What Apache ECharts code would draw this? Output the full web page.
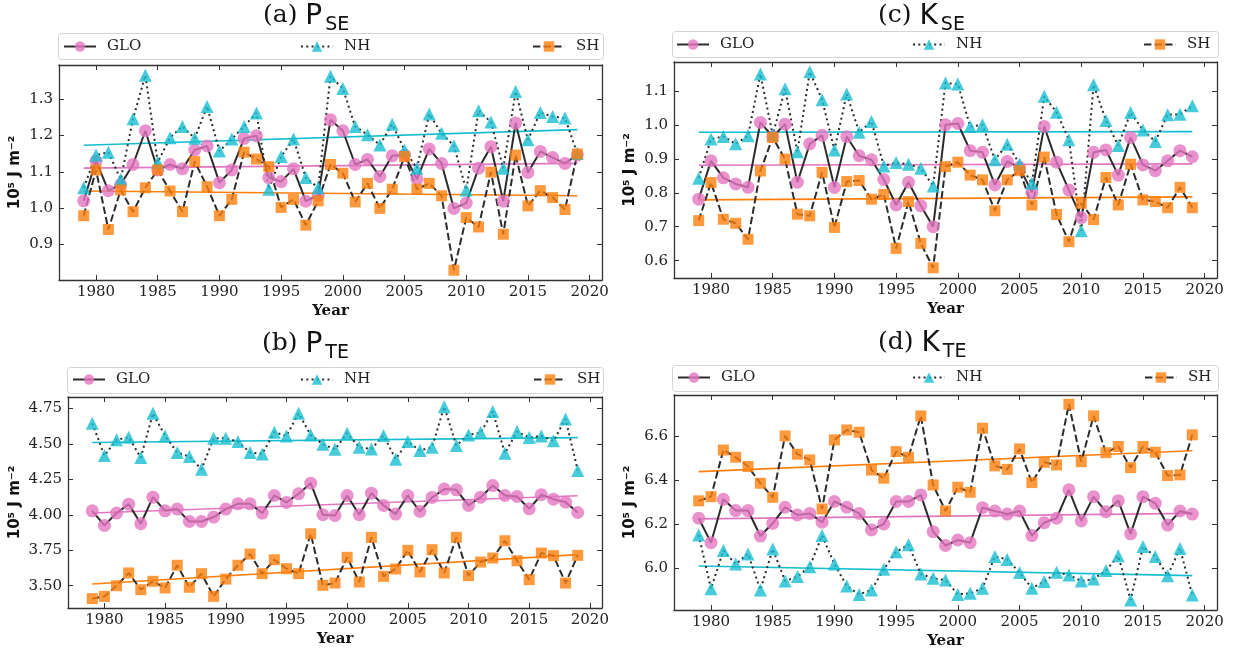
<!DOCTYPE html>
<html>
<head>
<meta charset="utf-8">
<script src="https://cdn.jsdelivr.net/npm/echarts@6/dist/echarts.min.js"></script>
<style>
  html, body { margin: 0; padding: 0; background: #fff; }
  #main { width: 1233px; height: 655px; }
</style>
</head>
<body>
<div id="main"></div>
<script>
// years on the x axis
const years = [1979, 1980, 1981, 1982, 1983, 1984, 1985, 1986, 1987, 1988,
  1989, 1990, 1991, 1992, 1993, 1994, 1995, 1996, 1997, 1998,
  1999, 2000, 2001, 2002, 2003, 2004, 2005, 2006, 2007, 2008,
  2009, 2010, 2011, 2012, 2013, 2014, 2015, 2016, 2017, 2018, 2019];
const xTicks = [1980, 1985, 1990, 1995, 2000, 2005, 2010, 2015, 2020];

// (a) P_SE
const pseGlo = [1.02, 1.13, 1.048, 1.065, 1.12, 1.213, 1.105, 1.12, 1.108, 1.16,
  1.171, 1.07, 1.105, 1.192, 1.199, 1.084, 1.073, 1.108, 1.019, 1.035,
  1.243, 1.213, 1.12, 1.134, 1.087, 1.144, 1.146, 1.08, 1.163, 1.123,
  0.999, 1.014, 1.11, 1.169, 1.019, 1.234, 1.098, 1.156, 1.139, 1.123, 1.146];
const pseNh = [1.056, 1.146, 1.154, 1.079, 1.246, 1.366, 1.126, 1.194, 1.225, 1.192,
  1.28, 1.157, 1.19, 1.225, 1.262, 1.052, 1.142, 1.19, 1.084, 1.056,
  1.363, 1.329, 1.225, 1.202, 1.174, 1.231, 1.16, 1.11, 1.259, 1.206,
  1.172, 1.05, 1.268, 1.237, 1.11, 1.321, 1.188, 1.263, 1.252, 1.248, 1.15];
const pseSh = [0.979, 1.105, 0.941, 1.05, 0.99, 1.056, 1.105, 1.047, 0.99, 1.128,
  1.059, 0.979, 1.024, 1.154, 1.135, 1.114, 1.002, 1.024, 0.953, 1.02,
  1.12, 1.096, 1.017, 1.068, 0.999, 1.052, 1.142, 1.052, 1.068, 1.034,
  0.829, 0.974, 0.948, 1.099, 0.928, 1.146, 1.006, 1.048, 1.029, 0.996, 1.149];
const pseTrend = [[1.11, 1.123], [1.173, 1.216], [1.047, 1.034]]; // GLO, NH, SH at 1979 / 2019
const pseTicks = [0.9, 1.0, 1.1, 1.2, 1.3];

// (c) K_SE
const kseGlo = [0.781, 0.894, 0.844, 0.826, 0.816, 1.007, 0.965, 1.002, 0.831, 0.944,
  0.969, 0.816, 0.965, 0.909, 0.897, 0.839, 0.764, 0.831, 0.762, 0.7,
  1.0, 1.004, 0.924, 0.919, 0.823, 0.892, 0.875, 0.801, 0.995, 0.89,
  0.808, 0.727, 0.919, 0.926, 0.852, 0.963, 0.882, 0.865, 0.894, 0.924, 0.906];
const kseNh = [0.843, 0.958, 0.966, 0.944, 0.968, 1.15, 0.97, 1.106, 0.921, 1.156,
  1.074, 0.926, 1.091, 0.978, 1.01, 0.879, 0.889, 0.884, 0.872, 0.82,
  1.123, 1.12, 0.995, 1.0, 0.897, 0.943, 0.885, 0.828, 1.084, 1.037,
  0.956, 0.688, 1.118, 1.013, 0.939, 1.036, 0.985, 0.951, 1.03, 1.031, 1.056];
const kseSh = [0.718, 0.83, 0.722, 0.71, 0.663, 0.864, 0.963, 0.899, 0.737, 0.732,
  0.86, 0.698, 0.833, 0.836, 0.781, 0.795, 0.636, 0.774, 0.651, 0.579,
  0.877, 0.89, 0.852, 0.838, 0.747, 0.838, 0.865, 0.764, 0.905, 0.736,
  0.656, 0.769, 0.721, 0.845, 0.764, 0.884, 0.779, 0.774, 0.756, 0.816, 0.756];
const kseTrend = [[0.881, 0.885], [0.978, 0.98], [0.779, 0.788]];
const kseTicks = [0.6, 0.7, 0.8, 0.9, 1.0, 1.1];

// (b) P_TE
const pteGlo = [4.028, 3.925, 4.012, 4.075, 3.937, 4.124, 4.028, 4.04, 3.953, 3.953,
  3.984, 4.04, 4.077, 4.077, 4.012, 4.136, 4.087, 4.148, 4.223, 4.0,
  3.995, 4.136, 4.0, 4.152, 4.066, 4.005, 4.136, 4.023, 4.122, 4.181,
  4.176, 4.066, 4.124, 4.206, 4.136, 4.129, 4.042, 4.141, 4.11, 4.089, 4.016];
const pteNh = [4.645, 4.417, 4.528, 4.546, 4.403, 4.715, 4.556, 4.439, 4.41, 4.321,
  4.539, 4.539, 4.516, 4.439, 4.429, 4.582, 4.556, 4.715, 4.563, 4.497,
  4.462, 4.575, 4.476, 4.464, 4.558, 4.392, 4.516, 4.453, 4.476, 4.762,
  4.488, 4.563, 4.579, 4.727, 4.434, 4.586, 4.544, 4.556, 4.521, 4.675, 4.312];
const pteSh = [3.409, 3.425, 3.5, 3.59, 3.472, 3.531, 3.484, 3.644, 3.489, 3.585,
  3.425, 3.547, 3.644, 3.723, 3.585, 3.683, 3.62, 3.585, 3.866, 3.503,
  3.519, 3.7, 3.526, 3.841, 3.566, 3.618, 3.749, 3.597, 3.754, 3.59,
  3.841, 3.571, 3.667, 3.695, 3.817, 3.676, 3.543, 3.73, 3.712, 3.519, 3.714];
const pteTrend = [[4.012, 4.134], [4.509, 4.544], [3.512, 3.719]];
const pteTicks = [3.5, 3.75, 4.0, 4.25, 4.5, 4.75];

// (d) K_TE
const kteGlo = [6.226, 6.115, 6.312, 6.261, 6.261, 6.145, 6.203, 6.276, 6.241, 6.248,
  6.208, 6.302, 6.276, 6.248, 6.173, 6.2, 6.302, 6.302, 6.332, 6.165,
  6.102, 6.127, 6.115, 6.274, 6.259, 6.245, 6.259, 6.147, 6.206, 6.226,
  6.355, 6.214, 6.324, 6.256, 6.306, 6.155, 6.324, 6.294, 6.195, 6.259, 6.245];
const kteNh = [6.15, 5.905, 6.079, 6.018, 6.064, 5.9, 6.086, 5.941, 5.961, 6.006,
  6.147, 6.018, 5.918, 5.88, 5.9, 5.994, 6.074, 6.105, 5.973, 5.953,
  5.945, 5.88, 5.885, 5.908, 6.052, 6.039, 5.979, 5.908, 5.938, 5.98,
  5.968, 5.941, 5.95, 5.988, 6.055, 5.855, 6.097, 6.052, 5.965, 6.089, 5.877];
const kteSh = [6.305, 6.324, 6.536, 6.503, 6.461, 6.385, 6.321, 6.6, 6.517, 6.491,
  6.268, 6.582, 6.627, 6.617, 6.445, 6.408, 6.529, 6.503, 6.691, 6.377,
  6.259, 6.367, 6.344, 6.635, 6.464, 6.448, 6.541, 6.388, 6.48, 6.468,
  6.744, 6.483, 6.691, 6.524, 6.552, 6.456, 6.552, 6.526, 6.42, 6.423, 6.605];
const kteTrend = [[6.223, 6.248], [6.009, 5.965], [6.438, 6.533]];
const kteTicks = [6.0, 6.2, 6.4, 6.6];

const names = ['GLO', 'NH', 'SH'];
const colors = ['#e377c2', '#17becf', '#ff7f0e'];
const symbols = ['circle', 'triangle', 'rect'];
const symbolSizes = [13, 13, 11];
const dashes = ['solid', [2, 3.3], [7.4, 3.2]];

const panels = [
  { title: ['(a) ', 'P', 'SE'], data: [pseGlo, pseNh, pseSh], trend: pseTrend, ticks: pseTicks, digits: 1,
    yMin: 0.802, yMax: 1.394, grid: { left: 59, top: 65, width: 543, height: 215 },
    titlePos: [263, 3], nameGap: 36, legendTop: 39, legendLeft: [63, 300, 532], box: [58, 33, 545, 26] },
  { title: ['(c) ', 'K', 'SE'], data: [kseGlo, kseNh, kseSh], trend: kseTrend, ticks: kseTicks, digits: 1,
    yMin: 0.549, yMax: 1.185, grid: { left: 674, top: 62, width: 543, height: 216 },
    titlePos: [878, 3], nameGap: 36, legendTop: 37, legendLeft: [676, 912, 1143], box: [672, 31, 546, 26] },
  { title: ['(b) ', 'P', 'TE'], data: [pteGlo, pteNh, pteSh], trend: pteTrend, ticks: pteTicks, digits: 2,
    yMin: 3.343, yMax: 4.83, grid: { left: 68, top: 397, width: 534, height: 211 },
    titlePos: [262, 331], nameGap: 45, legendTop: 372, legendLeft: [72, 300, 533], box: [67, 367, 536, 26] },
  { title: ['(d) ', 'K', 'TE'], data: [kteGlo, kteNh, kteSh], trend: kteTrend, ticks: kteTicks, digits: 1,
    yMin: 5.809, yMax: 6.786, grid: { left: 674, top: 395, width: 543, height: 215 },
    titlePos: [878, 330], nameGap: 36, legendTop: 370, legendLeft: [677, 912, 1144], box: [672, 365, 546, 26] }
];

const axisColor = '#333';
const grids = [], xAxes = [], yAxes = [], series = [], titles = [], legends = [], graphics = [];

panels.forEach((p, i) => {
  grids.push(p.grid);

  const frame = { onZero: false, lineStyle: { color: axisColor, width: 1.3 } };
  xAxes.push({
    gridIndex: i, type: 'value', min: 1977, max: 2021,
    axisLine: frame,
    axisTick: { inside: true, length: 5, customValues: xTicks, lineStyle: { color: axisColor } },
    axisLabel: { customValues: xTicks, margin: 5, fontFamily: 'DejaVu Serif', fontSize: 15, color: '#222',
      formatter: v => String(v) },
    splitLine: { show: false },
    name: 'Year', nameLocation: 'middle', nameGap: 24,
    nameTextStyle: { fontFamily: 'DejaVu Serif', fontWeight: 'bold', fontSize: 15, color: '#111' }
  });
  xAxes.push({
    gridIndex: i, type: 'value', position: 'top', min: 1977, max: 2021,
    axisLine: frame,
    axisTick: { inside: true, length: 5, customValues: xTicks, lineStyle: { color: axisColor } },
    axisLabel: { show: false }, splitLine: { show: false }
  });
  yAxes.push({
    gridIndex: i, type: 'value', min: p.yMin, max: p.yMax,
    axisLine: frame,
    axisTick: { inside: true, length: 5, customValues: p.ticks, lineStyle: { color: axisColor } },
    axisLabel: { customValues: p.ticks, margin: 6, fontFamily: 'DejaVu Serif', fontSize: 15, color: '#222',
      formatter: v => v.toFixed(p.digits) },
    splitLine: { show: false },
    name: '10⁵ J m⁻²', nameLocation: 'middle', nameGap: p.nameGap, nameRotate: 90,
    nameTextStyle: { fontFamily: 'DejaVu Sans', fontWeight: 'bold', fontSize: 15, color: '#111' }
  });
  yAxes.push({
    gridIndex: i, type: 'value', position: 'right', min: p.yMin, max: p.yMax,
    axisLine: frame,
    axisTick: { inside: true, length: 5, customValues: p.ticks, lineStyle: { color: axisColor } },
    axisLabel: { show: false }, splitLine: { show: false }
  });

  // trend lines first, so the data sit on top
  p.trend.forEach((t, k) => {
    series.push({
      name: names[k] + ' trend ' + i, type: 'line', xAxisIndex: 2 * i, yAxisIndex: 2 * i,
      data: [[years[0], t[0]], [years[years.length - 1], t[1]]],
      symbol: 'none', silent: true,
      lineStyle: { color: colors[k], width: 1.6 }
    });
  });

  p.data.forEach((arr, k) => {
    series.push({
      name: names[k], type: 'line', xAxisIndex: 2 * i, yAxisIndex: 2 * i,
      data: years.map((y, j) => [y, arr[j]]),
      symbol: symbols[k], symbolSize: symbolSizes[k],
      itemStyle: { color: colors[k], opacity: 0.8 },
      lineStyle: { color: '#2b2b2b', width: 2, type: dashes[k] }
    });
  });

  const txt = { color: '#111', fontWeight: 'normal' };
  titles.push({
    text: '{a|' + p.title[0] + '}{p|' + p.title[1] + '}{s|' + p.title[2] + '}',
    left: p.titlePos[0], top: p.titlePos[1], padding: 0,
    textStyle: {
      fontWeight: 'normal',
      rich: {
        a: Object.assign({ fontFamily: 'DejaVu Serif', fontSize: 25, verticalAlign: 'top', lineHeight: 28 }, txt),
        p: Object.assign({ fontFamily: 'DejaVu Sans', fontSize: 28, verticalAlign: 'top', lineHeight: 28 }, txt),
        s: Object.assign({ fontFamily: 'DejaVu Sans', fontSize: 19, verticalAlign: 'bottom', lineHeight: 32,
          padding: [0, 0, 0, 3] }, txt)
      }
    }
  });

  names.forEach((n, k) => {
    legends.push({
      data: [n], left: p.legendLeft[k], top: p.legendTop, padding: 0,
      itemWidth: 32, itemHeight: 13, selectedMode: false,
      textStyle: { fontFamily: 'DejaVu Serif', fontSize: 15, color: '#222', padding: [0, 0, 0, 6] }
    });
  });

  graphics.push({
    type: 'rect', left: p.box[0], top: p.box[1], z: -1,
    shape: { width: p.box[2], height: p.box[3], r: 3 },
    style: { fill: '#fff', stroke: '#d4d4d4', lineWidth: 1 }
  });
});

const chart = echarts.init(document.getElementById('main'));
chart.setOption({
  animation: false,
  backgroundColor: '#fff',
  title: titles,
  legend: legends,
  grid: grids,
  xAxis: xAxes,
  yAxis: yAxes,
  series: series,
  graphic: graphics
});
</script>
</body>
</html>
